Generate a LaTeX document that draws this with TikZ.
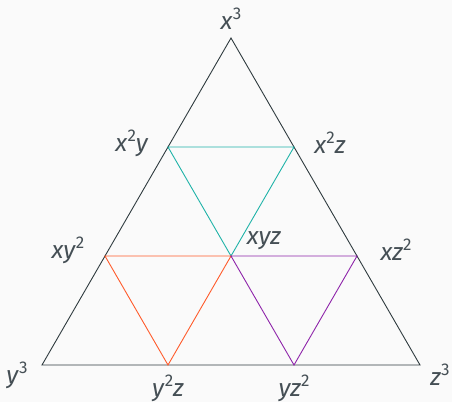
\documentclass[tikz,border=0pt]{standalone}
\usepackage{fontspec}
\setmainfont{Fira Sans}
\definecolor{bg}{HTML}{FAFAFA}
\definecolor{edge}{HTML}{2F3B3F}
\definecolor{txt}{HTML}{454F55}
\definecolor{tealc}{HTML}{1FB3A8}
\definecolor{orangec}{HTML}{FF5B2B}
\definecolor{purplec}{HTML}{8E24AA}
\newcommand{\vx}[1]{\textit{#1}}
\newcommand{\pw}[1]{\raisebox{0.42em}{\fontsize{17}{19}\selectfont #1}}
\begin{document}
\begin{tikzpicture}[x=1pt,y=-1pt,
  lbl/.style={text=txt,font=\fontsize{24.5}{28}\selectfont,inner sep=0pt},
  outer/.style={draw=edge,line width=0.9pt,line join=miter},
  inner/.style={line width=0.9pt}]
\fill[bg] (0,0) rectangle (452,402);
\useasboundingbox (0,0) rectangle (452,402);
\coordinate (A) at (231,38);
\coordinate (B) at (42,365);
\coordinate (C) at (420,365);
\coordinate (P1) at (168,147);
\coordinate (P2) at (294,147);
\coordinate (Q1) at (105,256);
\coordinate (Q2) at (231,256);
\coordinate (Q3) at (357,256);
\coordinate (R1) at (168,365);
\coordinate (R2) at (294,365);
\draw[outer] (A) -- (B) -- (C) -- cycle;
\draw[inner,tealc] (P1) -- (P2) -- (Q2) -- cycle;
\draw[inner,orangec] (Q1) -- (Q2) -- (R1) -- cycle;
\draw[inner,purplec] (Q2) -- (Q3) -- (R2) -- cycle;
\node[lbl] (lA) at (231,19) {\vx{x}\pw{3}};
\node[lbl] (lP1) at (132,143) {\vx{x}\pw{2}\vx{y}};
\node[lbl] (lP2) at (330,143) {\vx{x}\pw{2}\vx{z}};
\node[lbl] (lQ1) at (68,250) {\vx{xy}\pw{2}};
\node[lbl] (lQ2) at (264,241) {\vx{xyz}};
\node[lbl] (lQ3) at (396,250) {\vx{xz}\pw{2}};
\node[lbl] (lB) at (17,375) {\vx{y}\pw{3}};
\node[lbl] (lC) at (440,375) {\vx{z}\pw{3}};
\node[lbl] (lR1) at (168,388) {\vx{y}\pw{2}\vx{z}};
\node[lbl] (lR2) at (294,388) {\vx{yz}\pw{2}};
\end{tikzpicture}
\end{document}
